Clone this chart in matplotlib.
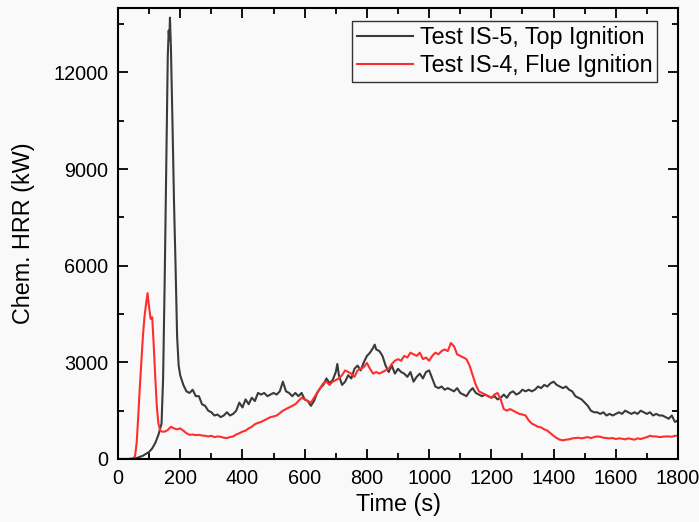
import matplotlib
matplotlib.use("Agg")
import matplotlib.pyplot as plt
from matplotlib.ticker import MultipleLocator

plt.rcParams['font.family'] = ['Liberation Sans', 'DejaVu Sans']

# Test IS-5, Top Ignition (time s, HRR kW)
t_is5 = [0, 40, 60, 80, 100, 110, 120, 130, 140, 145, 150, 155, 160, 163, 165, 167, 170, 175, 180, 185, 190, 195,
         200, 210, 220, 230, 240, 250, 260, 270, 280, 290, 300, 310, 320, 330, 340, 350, 360, 370, 380, 390,
         400, 410, 420, 430, 440, 450, 460, 470, 480, 490, 500, 510, 520, 530, 540, 550, 560, 570, 580, 590,
         600, 610, 620, 630, 640, 650, 660, 670, 680, 690, 700, 705, 710, 720, 730, 740, 750, 760, 770, 780, 790,
         800, 810, 820, 825, 830, 840, 850, 860, 870, 880, 890, 900, 910, 920, 930, 940, 950, 960, 970, 980, 990,
         1000, 1010, 1020, 1030, 1040, 1050, 1060, 1070, 1080, 1090, 1100, 1110, 1120, 1130, 1140, 1150, 1160,
         1170, 1180, 1190, 1200, 1210, 1220, 1230, 1240, 1250, 1260, 1270, 1280, 1290, 1300, 1310, 1320, 1330,
         1340, 1350, 1360, 1370, 1380, 1390, 1400, 1410, 1420, 1430, 1440, 1450, 1460, 1470, 1480, 1490, 1500,
         1510, 1520, 1530, 1540, 1550, 1560, 1570, 1580, 1590, 1600, 1610, 1620, 1630, 1640, 1650, 1660, 1670,
         1680, 1690, 1700, 1710, 1720, 1730, 1740, 1750, 1760, 1770, 1780, 1790, 1800]
hrr_is5 = [0, 0, 30, 100, 220, 330, 500, 750, 1100, 2500, 5500, 9000, 12500, 13300, 13000, 13700, 12800, 10500, 8000, 6000, 3800, 2900,
           2600, 2300, 2100, 2050, 2150, 1950, 1950, 1700, 1650, 1500, 1450, 1350, 1380, 1300, 1350, 1450, 1350, 1400, 1500, 1750,
           1600, 1850, 1700, 1900, 1800, 2050, 2000, 2050, 1950, 2000, 2050, 2000, 2100, 2400, 2100, 2050, 1950, 2050, 1950, 2050,
           1850, 1800, 1650, 1800, 2050, 2200, 2300, 2500, 2350, 2450, 2700, 2950, 2600, 2300, 2400, 2600, 2500, 2800, 2900, 2750, 3000,
           3200, 3300, 3450, 3550, 3400, 3350, 3200, 2900, 2700, 2900, 2650, 2800, 2700, 2650, 2550, 2700, 2400, 2550, 2650, 2500, 2700,
           2750, 2500, 2250, 2200, 2250, 2150, 2200, 2150, 2100, 2200, 2050, 2000, 1950, 2100, 2200, 2050, 2000,
           1950, 2000, 1950, 1900, 1950, 1850, 1900, 2000, 1900, 2050, 2100, 2000, 2050, 2150, 2100, 2150, 2100,
           2150, 2250, 2200, 2300, 2250, 2350, 2400, 2300, 2250, 2200, 2250, 2150, 2100, 1950, 1900, 1850, 1750,
           1650, 1500, 1450, 1450, 1400, 1450, 1350, 1400, 1350, 1400, 1450, 1400, 1500, 1450, 1400, 1450, 1400,
           1500, 1450, 1400, 1450, 1350, 1400, 1350, 1350, 1300, 1250, 1350, 1150, 1200]

# Test IS-4, Flue Ignition (time s, HRR kW)
t_is4 = [0, 30, 50, 55, 60, 65, 70, 75, 80, 85, 90, 95, 100, 105, 110, 115, 120, 125, 130, 135, 140, 150, 160, 170, 180, 190,
         200, 210, 220, 230, 240, 250, 260, 270, 280, 290, 300, 310, 320, 330, 340, 350, 360, 370, 380, 390,
         400, 410, 420, 430, 440, 450, 460, 470, 480, 490, 500, 510, 520, 530, 540, 550, 560, 570, 580, 590,
         600, 610, 620, 630, 640, 650, 660, 670, 680, 690, 700, 710, 720, 730, 740, 750, 760, 770, 780, 790,
         800, 810, 820, 830, 840, 850, 860, 870, 880, 890, 900, 910, 920, 930, 940, 950, 960, 970, 980, 990,
         1000, 1010, 1020, 1030, 1040, 1050, 1060, 1070, 1080, 1090, 1100, 1110, 1120, 1130, 1140, 1150, 1160,
         1170, 1180, 1190, 1200, 1210, 1220, 1230, 1240, 1250, 1260, 1270, 1280, 1290, 1300, 1310, 1320, 1330,
         1340, 1350, 1360, 1370, 1380, 1390, 1400, 1410, 1420, 1430, 1440, 1450, 1460, 1470, 1480, 1490, 1500,
         1510, 1520, 1530, 1540, 1550, 1560, 1570, 1580, 1590, 1600, 1610, 1620, 1630, 1640, 1650, 1660, 1670,
         1680, 1690, 1700, 1710, 1720, 1730, 1740, 1750, 1760, 1770, 1780, 1790, 1800]
hrr_is4 = [0, 0, 20, 100, 500, 1300, 2200, 3000, 3800, 4400, 4800, 5150, 4700, 4350, 4400, 3500, 2500, 1600, 1100, 900, 850, 850, 900, 1000, 950, 920,
           950, 880, 800, 750, 760, 740, 750, 730, 720, 700, 720, 680, 700, 690, 660, 650, 680, 700, 760, 800,
           850, 880, 950, 1000, 1080, 1120, 1150, 1200, 1250, 1300, 1320, 1350, 1420, 1500, 1550, 1600, 1650, 1700, 1800, 1900,
           1850, 1800, 1750, 1900, 2050, 2200, 2350, 2400, 2300, 2400, 2450, 2500, 2600, 2750, 2700, 2650, 2550, 2750, 2800, 2850,
           2980, 2800, 2650, 2700, 2650, 2700, 2750, 2800, 2950, 3050, 3100, 3050, 3200, 3150, 3300, 3250, 3200, 3300, 3100, 3150,
           3050, 3200, 3300, 3250, 3350, 3400, 3350, 3600, 3500, 3250, 3200, 3150, 3100, 2900, 2600, 2300, 2100,
           2050, 2000, 1950, 1900, 2000, 2050, 1850, 1550, 1500, 1550, 1500, 1450, 1400, 1380, 1350, 1200, 1100,
           1050, 1000, 980, 920, 880, 800, 720, 650, 600, 580, 600, 610, 640, 650, 660, 640, 660,
           680, 650, 680, 700, 690, 660, 650, 640, 650, 620, 640, 630, 610, 640, 620, 600, 640,
           620, 650, 680, 720, 700, 700, 680, 690, 700, 700, 690, 720, 720]

labels = ["Test IS-5, Top Ignition", "Test IS-4, Flue Ignition"]
x_ticks = [0, 200, 400, 600, 800, 1000, 1200, 1400, 1600, 1800]
y_ticks = [0, 3000, 6000, 9000, 12000]

fig = plt.figure(figsize=(6.99, 5.22), dpi=100, facecolor='#f9f9f9')
ax = fig.add_axes([0.1688, 0.1207, 0.8012, 0.864])
ax.set_facecolor('#f9f9f9')

ax.plot(t_is5, hrr_is5, color='#3a3a3a', lw=1.5, label=labels[0])
ax.plot(t_is4, hrr_is4, color='#ff2e2e', lw=1.5, label=labels[1])

ax.set_xlim(0, 1800)
ax.set_ylim(0, 14000)
ax.set_xticks(x_ticks)
ax.set_yticks(y_ticks)
ax.xaxis.set_minor_locator(MultipleLocator(100))
ax.yaxis.set_minor_locator(MultipleLocator(1500))
ax.tick_params(which='both', direction='in', top=True, right=True, labelsize=14.3, width=1.3)
ax.tick_params(which='major', length=7)
ax.tick_params(which='minor', length=4)
ax.tick_params(axis='x', pad=7)
ax.tick_params(axis='y', pad=7)
for s in ax.spines.values():
    s.set_linewidth(1.5)

ax.set_xlabel("Time (s)", fontsize=16.8, labelpad=4)
ax.set_ylabel("Chem. HRR (kW)", fontsize=16.8, labelpad=13)

leg = ax.legend(loc='upper right', fontsize=16.8, frameon=True, fancybox=False,
                edgecolor='#333333', framealpha=1, facecolor='#f9f9f9',
                handlelength=2.4, borderpad=0.2, labelspacing=0.22, handletextpad=0.3,
                borderaxespad=0, bbox_to_anchor=(0.9625, 0.971))
leg.get_frame().set_linewidth(1.0)

fig.savefig("out.png", dpi=100, facecolor=fig.get_facecolor())
